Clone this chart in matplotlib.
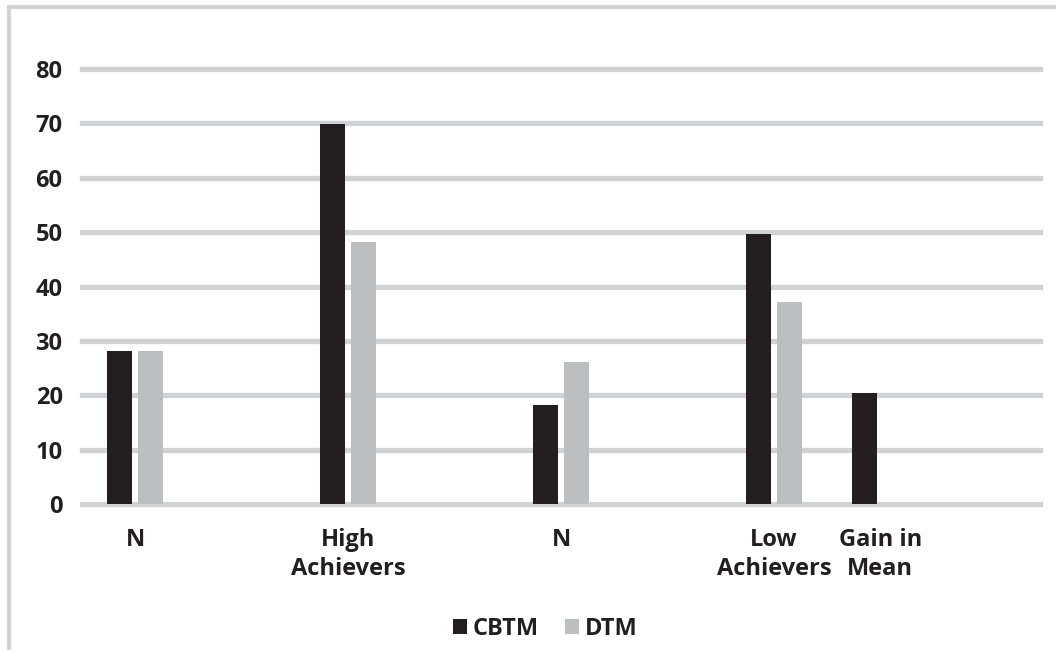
import matplotlib
matplotlib.use("Agg")
import matplotlib.pyplot as plt
import numpy as np
from matplotlib.patches import Rectangle

plt.rcParams["font.family"] = ["Open Sans", "DejaVu Sans"]
plt.rcParams["font.weight"] = "bold"

categories = ["N", "", "High\nAchievers", "", "N", "", "Low\nAchievers", "Gain in\nMean", ""]
cbtm = [28.2, np.nan, 69.9, np.nan, 18.2, np.nan, 49.7, 20.4, np.nan]
dtm = [28.2, np.nan, 48.2, np.nan, 26.1, np.nan, 37.1, np.nan, np.nan]
yticks = [0, 10, 20, 30, 40, 50, 60, 70, 80]

BLACK = "#231f20"
GRAY = "#bcbec0"
GRID = "#d1d2d4"

W, H = 1056, 650
fig = plt.figure(figsize=(W / 100, H / 100), dpi=100)
ax = fig.add_axes([82 / W, 1 - 504 / H, (1040 - 82) / W, (504 - 69) / H])

x = np.arange(len(categories))
width = 0.235
off = 0.146
ax.bar(x - off, cbtm, width, color=BLACK, label="CBTM", zorder=3)
ax.bar(x + off, dtm, width, color=GRAY, label="DTM", zorder=3)

for t in yticks:
    ax.axhline(t, color=GRID, linewidth=3.8, zorder=1, clip_on=False)

ax.set_xlim(-0.5, len(categories) - 0.5)
ax.set_ylim(0, 80)
ax.set_yticks(yticks)
ax.set_xticks(x)
ax.set_xticklabels(categories, fontsize=17, color=BLACK, linespacing=1.32)
ax.tick_params(axis="y", length=0, pad=14, labelsize=17, labelcolor=BLACK)
ax.tick_params(axis="x", length=0, pad=17)
for s in ax.spines.values():
    s.set_visible(False)

leg = fig.legend(loc="center", bbox_to_anchor=(545 / W, 1 - 629 / H), ncol=2,
                 frameon=False, fontsize=17, handlelength=0.6, handleheight=0.6,
                 handletextpad=0.25, columnspacing=1.1)
for txt in leg.get_texts():
    txt.set_color(BLACK)

# outer chart frame, only its top and left edges fall inside the canvas
fig.patches.append(Rectangle((9 / W, -0.1), 1.2, 1 - 7.5 / H + 0.1, transform=fig.transFigure,
                             fill=False, edgecolor=GRID, linewidth=3, zorder=0))

fig.savefig("out.png", dpi=100)
